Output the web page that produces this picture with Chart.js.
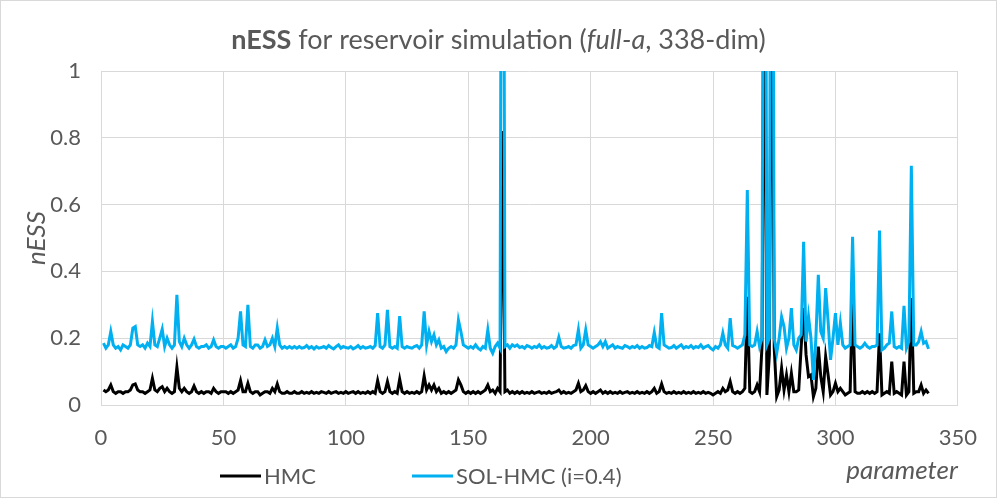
<!DOCTYPE html>
<html>
<head>
<meta charset="utf-8">
<script src="https://cdn.jsdelivr.net/npm/chart.js@4.4.1/dist/chart.umd.min.js"></script>
<style>
  html, body { margin: 0; padding: 0; background: #ffffff; }
  canvas { display: block; }
</style>
</head>
<body>
<canvas id="chart" width="997" height="498"></canvas>
<script>
// parameter index 1..338
const params = Array.from({ length: 338 }, (_, i) => i + 1);

// nESS for HMC
const hmcValues = [
  0.045, 0.04, 0.045, 0.06, 0.04, 0.035, 0.04, 0.04, 0.035, 0.04,
  0.04, 0.045, 0.06, 0.063, 0.045, 0.04, 0.04, 0.035, 0.04, 0.045,
  0.08, 0.045, 0.04, 0.05, 0.055, 0.04, 0.05, 0.04, 0.035, 0.04,
  0.113, 0.05, 0.04, 0.05, 0.04, 0.035, 0.04, 0.057, 0.04, 0.035,
  0.04, 0.035, 0.04, 0.04, 0.035, 0.05, 0.04, 0.035, 0.04, 0.04,
  0.04, 0.035, 0.04, 0.035, 0.04, 0.045, 0.073, 0.04, 0.04, 0.065,
  0.04, 0.035, 0.04, 0.04, 0.03, 0.035, 0.04, 0.04, 0.035, 0.05,
  0.04, 0.063, 0.04, 0.035, 0.035, 0.04, 0.035, 0.035, 0.04, 0.035,
  0.035, 0.04, 0.035, 0.038, 0.035, 0.04, 0.035, 0.038, 0.035, 0.04,
  0.038, 0.035, 0.04, 0.035, 0.038, 0.04, 0.035, 0.038, 0.035, 0.04,
  0.035, 0.038, 0.04, 0.035, 0.04, 0.035, 0.038, 0.035, 0.04, 0.035,
  0.04, 0.035, 0.073, 0.04, 0.035, 0.04, 0.07, 0.04, 0.035, 0.04,
  0.035, 0.077, 0.04, 0.035, 0.04, 0.035, 0.038, 0.035, 0.04, 0.035,
  0.04, 0.087, 0.045, 0.06, 0.045, 0.06, 0.04, 0.05, 0.035, 0.04,
  0.035, 0.04, 0.035, 0.04, 0.045, 0.075, 0.06, 0.04, 0.035, 0.04,
  0.035, 0.04, 0.035, 0.04, 0.035, 0.04, 0.045, 0.06, 0.04, 0.045,
  0.035, 0.05, 0.04, 0.82, 0.04, 0.045, 0.035, 0.04, 0.035, 0.04,
  0.035, 0.04, 0.035, 0.038, 0.035, 0.04, 0.035, 0.038, 0.04, 0.035,
  0.038, 0.035, 0.04, 0.035, 0.038, 0.04, 0.045, 0.035, 0.04, 0.035,
  0.038, 0.035, 0.04, 0.045, 0.065, 0.04, 0.045, 0.058, 0.04, 0.035,
  0.04, 0.035, 0.04, 0.045, 0.035, 0.04, 0.035, 0.04, 0.035, 0.038,
  0.035, 0.04, 0.035, 0.038, 0.04, 0.035, 0.038, 0.035, 0.04, 0.035,
  0.038, 0.035, 0.04, 0.035, 0.04, 0.05, 0.035, 0.04, 0.063, 0.04,
  0.035, 0.038, 0.035, 0.04, 0.035, 0.038, 0.035, 0.04, 0.035, 0.038,
  0.035, 0.04, 0.035, 0.038, 0.035, 0.04, 0.035, 0.038, 0.035, 0.03,
  0.035, 0.04, 0.035, 0.05, 0.04, 0.045, 0.07, 0.04, 0.035, 0.04,
  0.035, 0.04, 0.05, 0.324, 0.04, 0.035, 0.04, 0.06, 0.04, 0.175,
  1.5, 0.03, 0.15, 1.5, 0.17, 0.025, 0.045, 0.11, 0.045, 0.09,
  0.04, 0.095, 0.04, 0.04, 0.045, 0.175, 0.29, 0.15, 0.085, 0.09,
  0.025, 0.05, 0.175, 0.085, 0.04, 0.145, 0.09, 0.03, 0.04, 0.065,
  0.04, 0.05, 0.04, 0.03, 0.035, 0.04, 0.334, 0.04, 0.035, 0.035,
  0.04, 0.035, 0.04, 0.035, 0.04, 0.035, 0.04, 0.215, 0.03, 0.035,
  0.04, 0.035, 0.13, 0.035, 0.04, 0.035, 0.03, 0.13, 0.03, 0.04,
  0.32, 0.035, 0.04, 0.04, 0.06, 0.035, 0.045, 0.035
];

// nESS for SOL-HMC (i=0.4)
const solValues = [
  0.185, 0.17, 0.18, 0.22, 0.18, 0.17, 0.175, 0.165, 0.18, 0.175,
  0.17, 0.18, 0.23, 0.235, 0.18, 0.175, 0.18, 0.17, 0.185, 0.175,
  0.25, 0.18, 0.175, 0.2, 0.227, 0.175, 0.2, 0.18, 0.17, 0.18,
  0.33, 0.19, 0.175, 0.2, 0.18, 0.17, 0.18, 0.197, 0.175, 0.17,
  0.175, 0.175, 0.18, 0.17, 0.175, 0.195, 0.175, 0.17, 0.175, 0.175,
  0.17, 0.175, 0.18, 0.17, 0.175, 0.2, 0.28, 0.18, 0.175, 0.3,
  0.175, 0.17, 0.18, 0.18, 0.17, 0.175, 0.195, 0.175, 0.18, 0.2,
  0.175, 0.23, 0.18, 0.17, 0.175, 0.17, 0.175, 0.17, 0.175, 0.17,
  0.175, 0.17, 0.172, 0.178, 0.17, 0.175, 0.168, 0.175, 0.17, 0.172,
  0.175, 0.17, 0.178, 0.172, 0.168, 0.175, 0.18, 0.17, 0.175, 0.172,
  0.17, 0.175, 0.168, 0.172, 0.178, 0.17, 0.175, 0.17, 0.172, 0.175,
  0.17, 0.178, 0.275, 0.175, 0.17, 0.18, 0.285, 0.175, 0.17, 0.175,
  0.17, 0.266, 0.175, 0.17, 0.175, 0.172, 0.17, 0.175, 0.178, 0.17,
  0.18, 0.28, 0.18, 0.22, 0.19, 0.21, 0.18, 0.195, 0.17, 0.175,
  0.16, 0.17, 0.175, 0.17, 0.18, 0.254, 0.22, 0.18, 0.175, 0.17,
  0.175, 0.17, 0.18, 0.17, 0.165, 0.175, 0.17, 0.225, 0.17, 0.155,
  0.175, 0.185, 0.17, 3.0, 0.175, 0.18, 0.17, 0.18, 0.175, 0.18,
  0.172, 0.175, 0.17, 0.178, 0.175, 0.17, 0.175, 0.172, 0.18, 0.17,
  0.175, 0.17, 0.172, 0.178, 0.17, 0.175, 0.203, 0.175, 0.17, 0.172,
  0.175, 0.17, 0.178, 0.18, 0.225, 0.17, 0.18, 0.225, 0.18, 0.175,
  0.17, 0.175, 0.18, 0.19, 0.175, 0.19, 0.17, 0.175, 0.18, 0.17,
  0.175, 0.172, 0.17, 0.178, 0.175, 0.17, 0.175, 0.172, 0.178, 0.17,
  0.175, 0.17, 0.172, 0.178, 0.175, 0.217, 0.175, 0.17, 0.275, 0.18,
  0.175, 0.17, 0.172, 0.178, 0.17, 0.175, 0.18, 0.17, 0.175, 0.172,
  0.178, 0.17, 0.175, 0.172, 0.18, 0.17, 0.175, 0.178, 0.17, 0.165,
  0.175, 0.17, 0.18, 0.215, 0.18, 0.17, 0.26, 0.178, 0.175, 0.17,
  0.175, 0.18, 0.21, 0.644, 0.18, 0.175, 0.18, 0.22, 0.175, 0.2,
  3.0, 0.18, 0.2, 3.0, 0.2, 0.155, 0.2, 0.264, 0.235, 0.17,
  0.2, 0.29, 0.18, 0.165, 0.2, 0.21, 0.489, 0.19, 0.265, 0.2,
  0.075, 0.2, 0.39, 0.22, 0.2, 0.35, 0.25, 0.135, 0.2, 0.275,
  0.18, 0.245, 0.18, 0.17, 0.175, 0.18, 0.504, 0.18, 0.175, 0.17,
  0.175, 0.185, 0.175, 0.17, 0.175, 0.175, 0.18, 0.522, 0.165, 0.17,
  0.18, 0.185, 0.28, 0.175, 0.17, 0.175, 0.17, 0.297, 0.17, 0.19,
  0.716, 0.18, 0.18, 0.19, 0.22, 0.185, 0.19, 0.168
];

const seriesLabels = ['HMC', 'SOL-HMC (i=0.4)'];
const seriesColors = ['#000000', '#00B0F0'];

const textColor = '#595959';
const fontFamily = 'Lato, "Open Sans", sans-serif';

// title with mixed styles, legend row and outer frame
const decorations = {
  id: 'decorations',
  afterDraw(chart) {
    const ctx = chart.ctx;
    ctx.save();

    // outer frame
    ctx.strokeStyle = '#d9d9d9';
    ctx.lineWidth = 1;
    ctx.strokeRect(0.5, 0.5, chart.width - 1, chart.height - 1);

    // title: bold "nESS", italic "full-a"
    const parts = [
      { text: 'nESS', font: 'bold 27px ' + fontFamily },
      { text: ' for reservoir simulation (', font: '27px ' + fontFamily },
      { text: 'full-a', font: 'italic 27px ' + fontFamily },
      { text: ', 338-dim)', font: '27px ' + fontFamily }
    ];
    let total = 0;
    parts.forEach(p => { ctx.font = p.font; p.w = ctx.measureText(p.text).width; total += p.w; });
    let x = chart.width / 2 - total / 2;
    ctx.fillStyle = textColor;
    ctx.textBaseline = 'middle';
    ctx.textAlign = 'left';
    parts.forEach(p => { ctx.font = p.font; ctx.fillText(p.text, x, 40); x += p.w; });

    // legend
    const legendX = [220, 412];
    ctx.font = '22px ' + fontFamily;
    chart.data.datasets.forEach((ds, i) => {
      ctx.strokeStyle = ds.borderColor;
      ctx.lineWidth = 3;
      ctx.beginPath();
      ctx.moveTo(legendX[i], 476);
      ctx.lineTo(legendX[i] + 41, 476);
      ctx.stroke();
      ctx.fillStyle = textColor;
      ctx.fillText(ds.label, legendX[i] + 44, 477);
    });
    ctx.restore();
  }
};

const ctx = document.getElementById('chart').getContext('2d');
new Chart(ctx, {
  type: 'line',
  data: {
    datasets: [
      {
        label: seriesLabels[0],
        data: hmcValues.map((v, i) => ({ x: params[i], y: v })),
        borderColor: seriesColors[0],
        borderWidth: 3,
        pointRadius: 0,
        tension: 0,
        order: 1
      },
      {
        label: seriesLabels[1],
        data: solValues.map((v, i) => ({ x: params[i], y: v })),
        borderColor: seriesColors[1],
        borderWidth: 3,
        pointRadius: 0,
        tension: 0,
        order: 0
      }
    ]
  },
  options: {
    responsive: false,
    animation: false,
    devicePixelRatio: 1,
    layout: { padding: { top: 71, right: 33, left: 0, bottom: 0 } },
    plugins: {
      legend: { display: false },
      title: { display: false },
      tooltip: { enabled: false }
    },
    scales: {
      x: {
        type: 'linear',
        min: 0,
        max: 350,
        ticks: { stepSize: 50, color: textColor, font: { family: fontFamily, size: 22 }, padding: 20, maxRotation: 0 },
        grid: { color: '#d9d9d9', drawTicks: false },
        border: { color: '#d9d9d9' },
        title: {
          display: true,
          text: 'parameter',
          align: 'end',
          color: textColor,
          font: { family: fontFamily, size: 26, style: 'italic' },
          padding: { top: 0, bottom: 12 }
        },
        afterFit(scale) { scale.height = 93; }
      },
      y: {
        min: 0,
        max: 1,
        ticks: {
          stepSize: 0.2,
          color: textColor,
          font: { family: fontFamily, size: 22 },
          padding: 20,
          callback: v => String(Number(v.toFixed(1)))
        },
        grid: { color: '#d9d9d9', drawTicks: false },
        border: { display: false },
        title: {
          display: true,
          text: 'nESS',
          color: textColor,
          font: { family: fontFamily, size: 26, style: 'italic' },
          padding: { top: 21, bottom: 0 }
        },
        afterFit(scale) { scale.width = 101; }
      }
    }
  },
  plugins: [decorations]
});
</script>
</body>
</html>
